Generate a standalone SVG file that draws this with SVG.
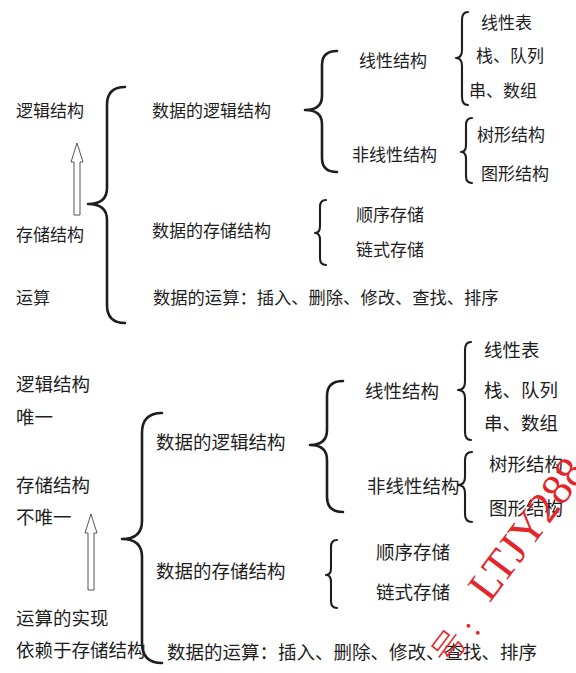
<svg xmlns="http://www.w3.org/2000/svg" width="576" height="673" viewBox="0 0 576 673">
<style>
  .t { font-family: "Noto Sans CJK SC", "Noto Sans", sans-serif; fill: #1e1e1e; }
  .s { font-size: 17px; }
  .b { font-size: 18.5px; }
  .br { fill: none; stroke: #1e1e1e; stroke-linecap: round; stroke-linejoin: round; }
  .bb { stroke-width: 2.6; }
  .bs { stroke-width: 2.1; }
  .ar { fill: #ffffff; stroke: #555555; stroke-width: 1; }
  .wm { fill: #e3262b; }
</style>
<rect width="576" height="673" fill="#ffffff"/>

<g id="connectors">
  <!-- top section braces -->
  <path class="br bb" d="M125,87 Q107,87 107,105 L107,188 Q107,204 88,204 Q107,204 107,220 L107,305 Q107,323 125,323"/>
  <path class="br bb" d="M337,51 Q322,51 322,65 L322,96 Q322,110 305,110 Q322,110 322,124 L322,158 Q322,172 337,172"/>
  <path class="br bs" d="M468,12 Q462,12 462,20 L462,50 Q462,58 456,58 Q462,58 462,66 L462,97 Q462,105 468,105"/>
  <path class="br bs" d="M472,118 Q466,118 466,125 L466,145 Q466,152 461,152 Q466,152 466,159 L466,176 Q466,183 472,183"/>
  <path class="br bs" d="M326,200 Q320,200 320,207 L320,226 Q320,233 315,233 Q320,233 320,240 L320,258 Q320,265 326,265"/>
  <!-- bottom section braces -->
  <path class="br bb" d="M162,413 Q142,413 142,433 L142,521 Q142,539 122,539 Q142,539 142,557 L142,643 Q142,663 162,663"/>
  <path class="br bb" d="M343,381 Q327,381 327,396 L327,430 Q327,445 310,445 Q327,445 327,460 L327,497 Q327,512 343,512"/>
  <path class="br bs" d="M471,342 Q465,342 465,350 L465,382 Q465,390 458,390 Q465,390 465,398 L465,432 Q465,440 471,440"/>
  <path class="br bs" d="M472,452 Q465,452 465,460 L465,477 Q465,485 458,485 Q465,485 465,493 L465,514 Q465,522 472,522"/>
  <path class="br bs" d="M337,540 Q331,540 331,547 L331,568 Q331,575 326,575 Q331,575 331,582 L331,601 Q331,608 337,608"/>
  <!-- hollow arrows -->
  <polygon class="ar" points="77,143 83,162 80,162 80,215 74,215 74,162 71,162"/>
  <polygon class="ar" points="91,514 97,533 94,533 94,590 88,590 88,533 85,533"/>
</g>

<!-- top section -->
<g id="top-left-labels">
  <text class="t s" x="16" y="117">逻辑结构</text>
  <text class="t s" x="16" y="241">存储结构</text>
  <text class="t s" x="16" y="304">运算</text>
</g>
<g id="top-logic"><text class="t s" x="152" y="117">数据的逻辑结构</text></g>
<g id="top-storage"><text class="t s" x="152" y="237">数据的存储结构</text></g>
<g id="top-ops"><text class="t" style="font-size:17.3px" x="153" y="304">数据的运算：插入、删除、修改、查找、排序</text></g>
<g id="top-linear"><text class="t s" x="359" y="67">线性结构</text></g>
<g id="top-nonlinear"><text class="t s" x="352" y="161">非线性结构</text></g>
<g id="top-linear-items">
  <text class="t s" x="481" y="29">线性表</text>
  <text class="t s" x="476" y="62">栈、队列</text>
  <text class="t s" x="469" y="97">串、数组</text>
</g>
<g id="top-nonlinear-items">
  <text class="t s" x="477" y="141">树形结构</text>
  <text class="t s" x="481" y="180">图形结构</text>
</g>
<g id="top-storage-items">
  <text class="t s" x="356" y="221">顺序存储</text>
  <text class="t s" x="356" y="256">链式存储</text>
</g>

<!-- bottom section -->
<g id="bottom-left-labels">
  <text class="t b" x="16" y="391">逻辑结构</text>
  <text class="t b" x="16" y="424">唯一</text>
  <text class="t b" x="16" y="492">存储结构</text>
  <text class="t b" x="16" y="524">不唯一</text>
  <text class="t b" x="16" y="625">运算的实现</text>
  <text class="t b" x="16" y="657">依赖于存储结构</text>
</g>
<g id="bottom-logic"><text class="t b" x="156" y="449">数据的逻辑结构</text></g>
<g id="bottom-storage"><text class="t b" x="156" y="578">数据的存储结构</text></g>
<g id="bottom-ops"><text class="t b" x="167" y="659">数据的运算：插入、删除、修改、查找、排序</text></g>
<g id="bottom-linear"><text class="t b" x="365" y="398">线性结构</text></g>
<g id="bottom-nonlinear"><text class="t b" x="367" y="493">非线性结构</text></g>
<g id="bottom-linear-items">
  <text class="t b" x="484" y="357">线性表</text>
  <text class="t b" x="484" y="397">栈、队列</text>
  <text class="t b" x="484" y="430">串、数组</text>
</g>
<g id="bottom-nonlinear-items">
  <text class="t b" x="489" y="471">树形结构</text>
  <text class="t b" x="489" y="515">图形结构</text>
</g>
<g id="bottom-storage-items">
  <text class="t b" x="376" y="559">顺序存储</text>
  <text class="t b" x="376" y="599">链式存储</text>
</g>

<!-- watermark -->
<g id="watermark" transform="translate(489.5,603.4) rotate(-53)">
  <text class="wm" x="-76" y="6" style="font-family:'Noto Sans CJK SC','Noto Sans',sans-serif;font-size:34px;font-weight:300">号</text>
  <text class="wm" x="-35" y="9.7" style="font-family:'Liberation Serif',serif;font-size:32px">:</text>
  <text class="wm" x="0" y="0" style="font-family:'Liberation Serif',serif;font-size:44px">LTJY288</text>
</g>
</svg>
